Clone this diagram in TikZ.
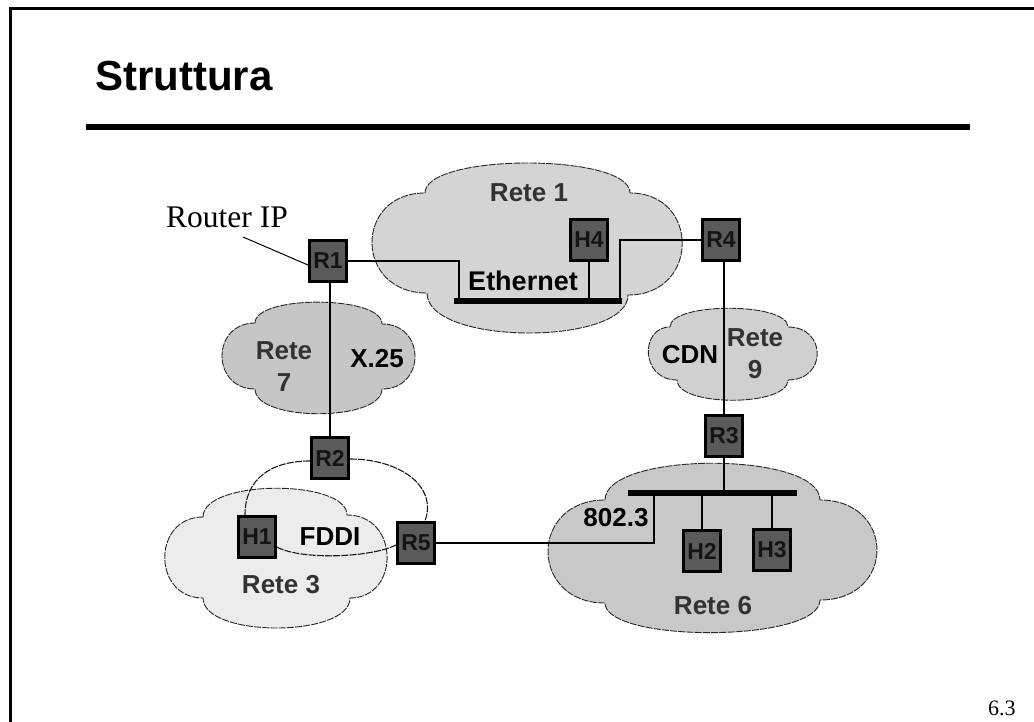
\documentclass[tikz,border=0pt]{standalone}
\usepackage{fontspec}
\setmainfont{Liberation Serif}
\setsansfont{Liberation Sans}
\definecolor{boxgray}{RGB}{90,90,90}
\definecolor{boxtext}{RGB}{20,20,20}
\definecolor{retetext}{RGB}{50,50,50}
\definecolor{cA}{RGB}{212,212,212}
\definecolor{cB}{RGB}{198,198,198}
\definecolor{cC}{RGB}{208,208,208}
\definecolor{cD}{RGB}{236,236,236}
\definecolor{cE}{RGB}{200,200,200}
\begin{document}
\begin{tikzpicture}[x=1pt,y=-1pt,
  box/.style={draw=black,line width=3pt,fill=boxgray,minimum width=37pt,minimum height=41pt,inner sep=0pt,font=\sffamily\bfseries\fontsize{23}{27}\selectfont,text=boxtext},
  lbl/.style={inner sep=0pt,font=\sffamily\bfseries\fontsize{26}{32}\selectfont,align=center},
  rete/.style={lbl,text=retetext},
  cloudline/.style={draw=black!85,line width=0.9pt,dash pattern=on 7pt off 1.2pt},
  wire/.style={draw=black,line width=1.3pt},
  ring/.style={draw=black!90,line width=1.1pt,dash pattern=on 7pt off 1.2pt},
  bus/.style={draw=black,line width=6pt}]
\useasboundingbox (0,0) rectangle (1034,722);
\fill[white] (0,0) rectangle (1034,722);
% frame and title
\draw[line width=3pt] (10,722) -- (10,9) -- (1034,9);
\node[anchor=base west,inner sep=0pt,font=\sffamily\bfseries\fontsize{42}{48}\selectfont] (title) at (95,91) {Struttura};
\draw[line width=6pt] (86,127) -- (970,127);
\node[anchor=base west,inner sep=0pt,font=\fontsize{22}{26}\selectfont] (pg) at (988,715) {6.3};
% clouds
\path[cloudline,fill=cA] (425,193) .. controls (425,153) and (630,153) .. (630,193)
  .. controls (700,193) and (700,295) .. (628,295)
  .. controls (628,346) and (427,346) .. (427,293)
  .. controls (354,293) and (354,193) .. (425,193) -- cycle;
\path[cloudline,fill=cB] (255,323) .. controls (255,295) and (382,295) .. (382,324)
  .. controls (426,324) and (426,389) .. (382,389)
  .. controls (382,422) and (255,422) .. (255,389)
  .. controls (211,389) and (211,323) .. (255,323) -- cycle;
\path[cloudline,fill=cC] (670,327) .. controls (670,302) and (788,302) .. (788,327)
  .. controls (827,327) and (827,380) .. (788,380)
  .. controls (788,407) and (677,407) .. (677,380)
  .. controls (640,380) and (640,327) .. (670,327) -- cycle;
\path[cloudline,fill=cD] (203,517) .. controls (203,479) and (347,479) .. (347,515)
  .. controls (400,515) and (400,598) .. (350,598)
  .. controls (350,638) and (203,638) .. (203,598)
  .. controls (152,598) and (152,517) .. (203,517) -- cycle;
\path[cloudline,fill=cE] (605,500) .. controls (605,451) and (820,451) .. (820,500)
  .. controls (896,500) and (896,600) .. (820,600)
  .. controls (820,643) and (605,643) .. (605,603)
  .. controls (529,603) and (529,500) .. (605,500) -- cycle;
% labels
\node[rete] (t1) at (529,193) {Rete 1};
\node[lbl,font=\sffamily\bfseries\fontsize{27}{32}\selectfont] (eth) at (523,281) {Ethernet};
\node[rete] (t7) at (284,367) {Rete\\7};
\node[lbl] (x25) at (377,359) {X.25};
\node[lbl] (cdn) at (690,355) {CDN};
\node[rete] (t9) at (755,354) {Rete\\9};
\node[lbl] (fddi) at (330,537) {FDDI};
\node[rete] (t3) at (281,585) {Rete 3};
\node[rete] (t6) at (713,606) {Rete 6};
\node[lbl] (n8023) at (616,518) {802.3};
% boxes
\node[box] (R1) at (328,261) {R1};
\node[box] (H4) at (589,240) {H4};
\node[box] (R4) at (721,240) {R4};
\node[box] (R3) at (724,436) {R3};
\node[box] (R2) at (330,458) {R2};
\node[box] (H1) at (257,537) {H1};
\node[box] (R5) at (416,543) {R5};
\node[box] (H2) at (702,551) {H2};
\node[box] (H3) at (772,550) {H3};
% router IP label
\node[anchor=base west,inner sep=0pt,font=\fontsize{31.5}{36}\selectfont] (rip) at (166,228) {Router IP};
\coordinate (lead) at (243,237);
\draw[line width=1pt] (lead) -- ([yshift=-4pt]R1.west);
% bus coordinates
\coordinate (eL) at (454,301); \coordinate (eR) at (622,301);
\coordinate (eA) at (459,301); \coordinate (eB) at (620,301);
\coordinate (pL) at (628,493); \coordinate (pR) at (797,493);
\coordinate (pA) at (654,493);
% wires
\draw[wire] (R1.east) -| (eA);
\draw[wire] (H4.south) -- (H4.south |- eL);
\draw[wire] (R4.west) -| (eB);
\draw[wire] (R2.north) -- (R2.north |- R1.south);
\draw[wire] (R3.north) -- (R3.north |- R4.south);
\draw[wire] (R3.south) -- (R3.south |- pL);
\draw[wire] (H2.north) -- (H2.north |- pL);
\draw[wire] (H3.north) -- (H3.north |- pL);
\draw[wire] (pA) |- (R5.east);
\draw[bus,line width=5.5pt] (eL) -- (eR);
\draw[bus,line width=6.5pt] (pL) -- (pR);
% FDDI ring
\draw[ring] ([yshift=-3pt]R2.west) .. controls (272,461) and (245,478) .. ([xshift=-12pt]H1.north);
\draw[ring] ([yshift=-1pt]R2.east) .. controls (398,459) and (438,485) .. ([xshift=9pt]R5.north);
\draw[ring] ([yshift=-10pt]H1.east) .. controls (300,560) and (370,558) .. ([yshift=-2pt]R5.west);
\end{tikzpicture}
\end{document}
